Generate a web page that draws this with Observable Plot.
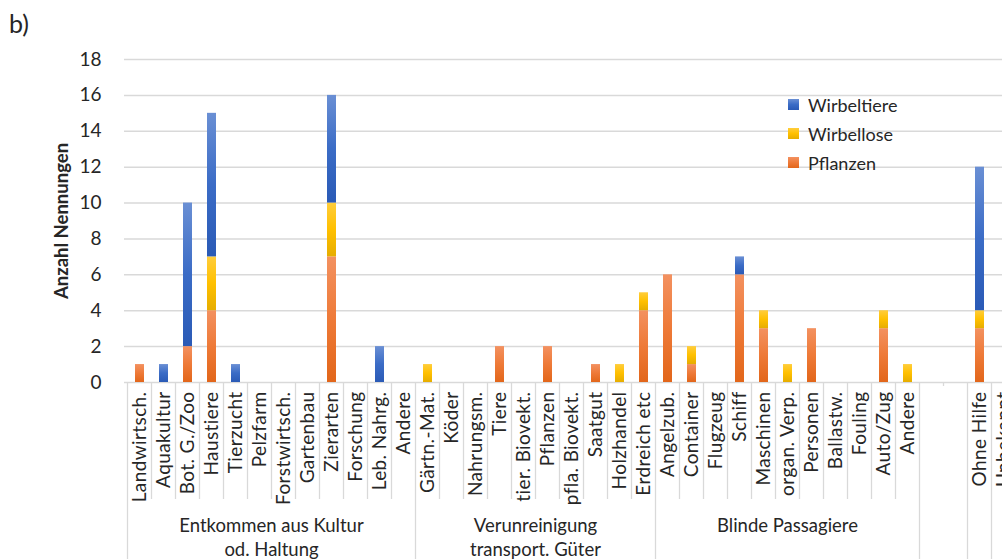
<!DOCTYPE html>
<html><head><meta charset="utf-8">
<script src="https://cdn.jsdelivr.net/npm/d3@7"></script>
<script src="https://cdn.jsdelivr.net/npm/@observablehq/plot@0.6"></script>
<style>
html,body{margin:0;padding:0;background:#fff;overflow:hidden;width:1002px;height:559px;}
#wrap{position:relative;width:1002px;height:559px;overflow:hidden;font-family:Lato,sans-serif;color:#262626;}
#tag{position:absolute;left:9px;top:8px;font-size:25px;font-family:Lato,sans-serif;}
#chart{position:absolute;left:0;top:0;width:1018px;}
#legend{position:absolute;left:788px;top:90px;}
#legend [class*="-swatch"]:not([class*="-swatches"]){height:29px !important;padding:0 !important;margin:0 !important;display:flex;align-items:center;}
#chart g[aria-label="x-axis tick label"]{font-size:19px;letter-spacing:0.4px;}
#chart g[aria-label="y-axis tick label"]{font-size:19px;}
</style></head><body>
<div id="wrap"><div id="chart"></div><div id="tag">b)</div><div id="legend"></div></div>
<script>
const seriesNames = ["Wirbeltiere", "Wirbellose", "Pflanzen"];
const groupLabels = ["Entkommen aus Kultur\nod. Haltung", "Verunreinigung\ntransport. Güter", "Blinde Passagiere", "", "", ""];
const group1 = ["Landwirtsch.", "Aquakultur", "Bot. G./Zoo", "Haustiere", "Tierzucht", "Pelzfarm", "Forstwirtsch.", "Gartenbau", "Zierarten", "Forschung", "Leb. Nahrg.", "Andere"];
const group2 = ["Gärtn.-Mat.", "Köder", "Nahrungsm.", "Tiere", "tier. Biovekt.", "Pflanzen", "pfla. Biovekt.", "Saatgut", "Holzhandel", "Erdreich etc"];
const group3 = ["Angelzub.", "Container", "Flugzeug", "Schiff", "Maschinen", "organ. Verp.", "Personen", "Ballastw.", "Fouling", "Auto/Zug", "Andere"];
const group4 = ["", ""];
const group5 = ["Ohne Hilfe"];
const group6 = ["Unbekannt"];
const pflanzen    = [1,0,2,4,0,0,0,0,7,0,0,0,  0,0,0,2,0,2,0,1,0,4,  6,1,0,6,3,0,3,0,0,3,0,  0,0,  3,  0];
const wirbellose  = [0,0,0,3,0,0,0,0,3,0,0,0,  1,0,0,0,0,0,0,0,1,1,  0,1,0,0,1,1,0,0,0,1,1,  0,0,  1,  0];
const wirbeltiere = [0,1,8,8,1,0,0,0,6,0,2,0,  0,0,0,0,0,0,0,0,0,0,  0,0,0,1,0,0,0,0,0,0,0,  0,0,  8,  0];
const yTicks = [0,2,4,6,8,10,12,14,16,18];

const groupCategories = [group1, group2, group3, group4, group5, group6];
const keys = [], labelOf = new Map(), groupIndex = [];
groupCategories.forEach((cats, g) => cats.forEach((c, i) => {
  const k = g + "-" + i; keys.push(k); labelOf.set(k, c); groupIndex.push(g);
}));
const rows = keys.flatMap((k, i) => [
  {key: k, series: "Pflanzen", value: pflanzen[i]},
  {key: k, series: "Wirbellose", value: wirbellose[i]},
  {key: k, series: "Wirbeltiere", value: wirbeltiere[i]}
]).filter(d => d.value > 0);

const colorScale = {domain: seriesNames, range: ["url(#gT)", "url(#gW)", "url(#gP)"]};
const lineColor = "#d9d9d9";

function axisFrame(index, scales, values, dim) {
  const x = scales.x;
  const c0 = x(keys[0]), c1 = x(keys[1]);
  const step = c1 - c0;
  const bw = typeof x.bandwidth === "function" ? x.bandwidth() : step * 0.37;
  const centers = keys.map(k => x(k) + bw / 2);
  const y0 = dim.height - dim.marginBottom;
  const g = d3.create("svg:g");
  const bounds = keys.map((k, i) => ({bx: centers[i] - step / 2, i}));
  bounds.push({bx: centers[keys.length - 1] + step / 2, i: keys.length});
  for (const {bx, i} of bounds) {
    const isGroupStart = i === 0 || i === keys.length || groupIndex[i] !== groupIndex[i - 1];
    const blank = i < keys.length && groupCategories[groupIndex[i]].every(c => c === "");
    const len = isGroupStart ? dim.height - y0 : (blank ? 4 : 117);
    g.append("line").attr("x1", bx).attr("x2", bx).attr("y1", y0).attr("y2", y0 + len)
      .attr("stroke", lineColor).attr("stroke-width", 1.3);
  }
  groupCategories.forEach((cats, gi) => {
    const idx = keys.map((k, i) => i).filter(i => groupIndex[i] === gi);
    const cx = (centers[idx[0]] + centers[idx[idx.length - 1]]) / 2;
    groupLabels[gi].split("\n").forEach((t, li) => {
      if (!t) return;
      g.append("text").attr("x", cx).attr("y", y0 + 150 + li * 24)
        .attr("text-anchor", "middle").attr("font-size", 18.5).attr("fill", "#262626").text(t);
    });
  });
  return g.node();
}

const chart = Plot.plot({
  width: 1018, height: 559,
  marginLeft: 124, marginRight: 0, marginTop: 59, marginBottom: 177,
  style: {fontFamily: "Lato, sans-serif", fontSize: "16px", color: "#262626", background: "white", maxWidth: "none", overflow: "visible"},
  x: {domain: keys, paddingInner: 0.63, paddingOuter: 0.315, align: 0.5, label: null},
  y: {domain: [0, 18], label: null},
  color: colorScale,
  marks: [
    Plot.gridY(yTicks, {stroke: lineColor, strokeOpacity: 1, strokeWidth: 1.5}),
    Plot.axisY(yTicks, {tickSize: 0, tickPadding: 23, fontSize: 19, label: null}),
    Plot.text(["Anzahl Nennungen"], {frameAnchor: "left", dx: -70, rotate: -90, lineAnchor: "top", textAnchor: "middle", fontWeight: "bold", fontSize: 18.5, fill: "#262626"}),
    Plot.barY(rows, Plot.stackY({x: "key", y: "value", fill: "series", order: ["Pflanzen", "Wirbellose", "Wirbeltiere"]})),
    Plot.axisX({tickSize: 0, tickRotate: -90, tickPadding: 9, fontSize: 19, tickFormat: k => labelOf.get(k), label: null}),
    axisFrame
  ]
});

const defs = d3.select(chart).insert("defs", ":first-child");
const grads = [["gT", "#6a8fd4", "#3b6cc6", "#2a5ab6"], ["gW", "#ffcd3c", "#ffc000", "#e6ad00"], ["gP", "#f39160", "#ee7a38", "#e2661a"]];
for (const [id, a, b, c] of grads) {
  const lg = defs.append("linearGradient").attr("id", id).attr("x1", 0).attr("y1", 0).attr("x2", 0).attr("y2", 1);
  lg.append("stop").attr("offset", "0%").attr("stop-color", a);
  lg.append("stop").attr("offset", "50%").attr("stop-color", b);
  lg.append("stop").attr("offset", "100%").attr("stop-color", c);
}
document.getElementById("chart").append(chart);

const legend = Plot.legend({color: colorScale, legend: "swatches", columns: 1, swatchSize: 11,
  style: {fontFamily: "Lato, sans-serif", fontSize: "18px", color: "#262626"}});
document.getElementById("legend").append(legend);
</script>
</body></html>
